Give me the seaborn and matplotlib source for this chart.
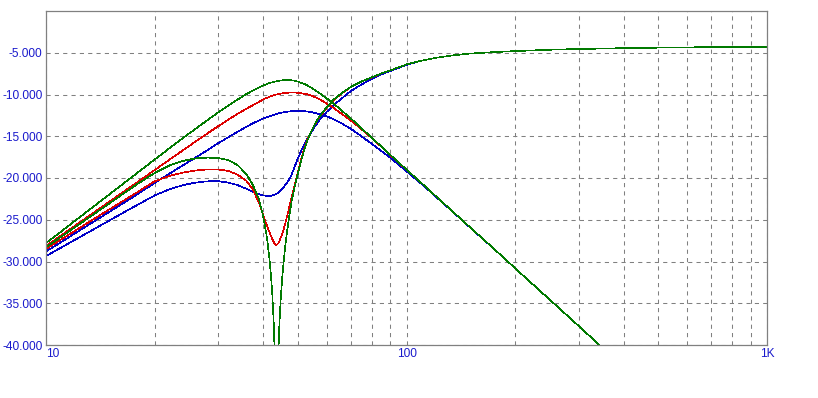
import numpy as np
import pandas as pd
import matplotlib
matplotlib.use("Agg")
import matplotlib.pyplot as plt
import seaborn as sns
from matplotlib.ticker import FixedLocator, FixedFormatter

# ---- data ----
freq = [10, 11, 12, 13.5, 15, 16.5, 18, 20, 22, 24, 26, 28, 30, 32, 34, 36, 37.5, 39, 40, 41,
        41.8, 42.4, 42.8, 43.1, 43.4, 43.6, 43.8, 44.1, 44.4, 44.8, 45.3, 46, 47, 48, 49, 50,
        51.5, 53, 55, 57, 60, 63, 66, 70, 75, 80, 85, 90, 100, 110, 120, 135, 150, 175, 200,
        250, 300, 350, 400, 500, 700, 1000]

lp_green = [-27.8, -26.43, -25.17, -23.47, -21.95, -20.58, -19.32, -17.8, -16.44, -15.21,
            -14.1, -13.09, -12.17, -11.34, -10.6, -9.94, -9.52, -9.14, -8.93, -8.74,
            -8.62, -8.54, -8.49, -8.46, -8.43, -8.41, -8.39, -8.37, -8.35, -8.32,
            -8.3, -8.28, -8.27, -8.3, -8.36, -8.46,
            -8.65, -8.9, -9.3, -9.75, -10.45, -11.15, -11.9, -12.85, -14.05, -15.15, -16.2, -17.2,
            -19.0, -20.6, -22.1, -24.1, -25.9, -28.5, -30.8,
            -34.6, -37.7, -40.35, -42.6, -46.5, -52.3, -58.5]
lp_red = [-28.15, -26.9, -25.76, -24.21, -22.83, -21.58, -20.44, -19.06, -17.81, -16.67,
          -15.63, -14.68, -13.81, -13.03, -12.32, -11.69, -11.28, -10.88, -10.6, -10.4,
          -10.26, -10.16, -10.1, -10.06, -10.02, -10.0, -9.98, -9.95, -9.92, -9.89,
          -9.86, -9.82, -9.78, -9.76, -9.76, -9.8,
          -9.87, -9.98, -10.2, -10.5, -11.07, -11.65, -12.3, -13.1, -14.15, -15.2, -16.22, -17.22,
          -19.0, -20.6, -22.1, -24.1, -25.9, -28.5, -30.8,
          -34.6, -37.7, -40.35, -42.6, -46.5, -52.3, -58.5]
lp_blue = [-28.8, -27.69, -26.66, -25.28, -24.05, -22.93, -21.9, -20.6, -19.48, -18.47,
           -17.55, -16.68, -15.85, -15.13, -14.46, -13.85, -13.45, -13.1, -12.88, -12.7,
           -12.58, -12.49, -12.43, -12.39, -12.35, -12.33, -12.31, -12.27, -12.24, -12.2,
           -12.16, -12.1, -12.05, -12.0, -11.98, -11.97,
           -11.98, -12.03, -12.15, -12.32, -12.6, -13.0, -13.45, -14.1, -15.0, -15.9, -16.75, -17.55,
           -19.2, -20.7, -22.15, -24.12, -25.92, -28.5, -30.8,
           -34.6, -37.7, -40.35, -42.6, -46.5, -52.3, -58.5]
hp_green = [-28.3, -27.06, -25.93, -24.4, -23.03, -21.79, -20.67, -19.41, -18.5, -17.95,
            -17.65, -17.56, -17.6, -17.85, -18.45, -19.55, -20.85, -22.6, -24.5, -27.1,
            -30.2, -33.6, -37.1, -41.2, -49.0, -65.0, -49.0, -41.0, -37.5, -34.3,
            -31.5, -28.5, -25.3, -22.8, -21.0, -19.4,
            -17.3, -15.55, -14.0, -12.8, -11.55, -10.55, -9.85, -9.1, -8.45, -7.95, -7.5, -7.12,
            -6.4, -5.95, -5.62, -5.3, -5.1, -4.92, -4.8,
            -4.64, -4.55, -4.5, -4.45, -4.39, -4.33, -4.28]
hp_red = [-28.5, -27.38, -26.36, -24.98, -23.75, -22.65, -21.65, -20.4, -19.75, -19.35,
          -19.1, -18.97, -18.97, -19.15, -19.6, -20.35, -21.4, -23.0, -24.4, -25.7,
          -26.65, -27.3, -27.65, -27.88, -28.0, -28.0, -27.95, -27.8, -27.55, -27.15,
          -26.6, -25.6, -24.0, -22.3, -20.8, -19.2,
          -17.15, -15.5, -14.0, -12.85, -11.62, -10.6, -9.9, -9.12, -8.47, -7.96, -7.5, -7.12,
          -6.4, -5.95, -5.62, -5.3, -5.1, -4.92, -4.8,
          -4.64, -4.55, -4.5, -4.45, -4.39, -4.33, -4.28]
hp_blue = [-29.35, -28.35, -27.43, -26.19, -25.08, -24.08, -23.18, -22.1, -21.35, -20.85,
           -20.55, -20.4, -20.38, -20.55, -20.85, -21.3, -21.65, -21.95, -22.08, -22.15,
           -22.15, -22.1, -22.05, -22.0, -21.95, -21.9, -21.85, -21.8, -21.65, -21.48,
           -21.25, -20.9, -20.35, -19.6, -18.6, -17.6,
           -16.4, -15.35, -14.2, -13.2, -12.1, -11.2, -10.5, -9.6, -8.8, -8.15, -7.6, -7.2,
           -6.45, -5.95, -5.62, -5.3, -5.1, -4.92, -4.8,
           -4.64, -4.55, -4.5, -4.45, -4.39, -4.33, -4.28]

x_ticks = [10, 100, 1000]
x_labels = ["10", "100", "1K"]
y_ticks = [-40, -35, -30, -25, -20, -15, -10, -5]
y_labels = ["-40.000", "-35.000", "-30.000", "-25.000", "-20.000", "-15.000", "-10.000", "-5.000"]

series = {
    "lp_blue": lp_blue, "hp_blue": hp_blue,
    "lp_red": lp_red, "hp_red": hp_red,
    "lp_green": lp_green, "hp_green": hp_green,
}
colors = {"lp_blue": "#0000C8", "hp_blue": "#0000C8",
          "lp_red": "#DD0000", "hp_red": "#DD0000",
          "lp_green": "#007A00", "hp_green": "#007A00"}

rows = []
for name, vals in series.items():
    for f, v in zip(freq, vals):
        rows.append({"curve": name, "freq": f, "db": v})
df = pd.DataFrame(rows)

sns.set_theme(style="white")
plt.rcParams['font.family'] = ['Liberation Sans', 'DejaVu Sans']

fig = plt.figure(figsize=(8.18, 3.98), dpi=100)
ax = fig.add_axes([46 / 818, 53 / 398, 721 / 818, 334 / 398])

ax.set_xscale("log")
sns.lineplot(data=df, x="freq", y="db", hue="curve", hue_order=list(series.keys()),
             palette=colors, estimator=None, sort=False, legend=False, linewidth=0.45,
             antialiased=False, ax=ax)

ax.set_xlim(10, 1000)
ax.set_ylim(-40, 0)

ax.xaxis.set_major_locator(FixedLocator(x_ticks))
ax.xaxis.set_major_formatter(FixedFormatter(x_labels))
minor = [m * d for d in (10, 100) for m in range(2, 10)]
ax.xaxis.set_minor_locator(FixedLocator(minor))
ax.yaxis.set_major_locator(FixedLocator(y_ticks))
ax.yaxis.set_major_formatter(FixedFormatter(y_labels))

grid_kw = dict(color="#808080", linestyle=(0, (4, 4)), linewidth=0.75)
ax.grid(True, which="major", axis="both", **grid_kw)
ax.grid(True, which="minor", axis="x", **grid_kw)
ax.set_axisbelow(True)

ax.tick_params(axis="both", which="both", length=0, labelsize=8.6, labelcolor="#1a1acc")
ax.tick_params(axis="x", pad=2)
ax.tick_params(axis="y", pad=2.5)

for s in ax.spines.values():
    s.set_color("#808080")
    s.set_linewidth(0.9)
    s.set_visible(True)

ax.set_xlabel("")
ax.set_ylabel("")

fig.canvas.draw()
xl = ax.get_xticklabels()
xl[0].set_horizontalalignment("left")

fig.savefig("out.png", dpi=100, facecolor="white")
